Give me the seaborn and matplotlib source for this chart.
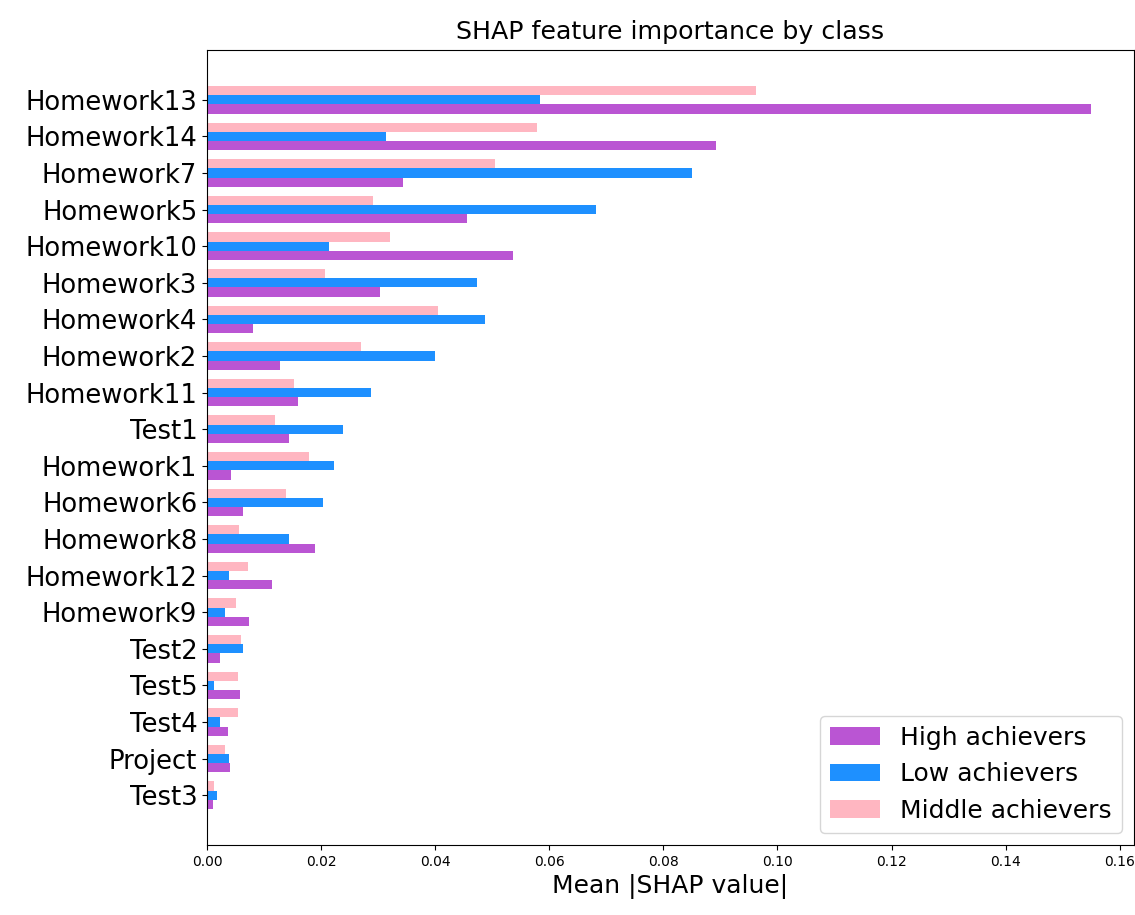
import matplotlib
matplotlib.use("Agg")
import matplotlib.pyplot as plt
import seaborn as sns
import pandas as pd
from matplotlib.patches import Patch

features = ["Homework13", "Homework14", "Homework7", "Homework5", "Homework10",
            "Homework3", "Homework4", "Homework2", "Homework11", "Test1",
            "Homework1", "Homework6", "Homework8", "Homework12", "Homework9",
            "Test2", "Test5", "Test4", "Project", "Test3"]
high = [0.1550, 0.0892, 0.0343, 0.0455, 0.0536, 0.0303, 0.0080, 0.0128, 0.0160, 0.0143,
        0.0042, 0.0063, 0.0189, 0.0114, 0.0074, 0.0022, 0.0057, 0.0036, 0.0040, 0.0010]
low = [0.0583, 0.0313, 0.0850, 0.0682, 0.0213, 0.0473, 0.0487, 0.0399, 0.0287, 0.0238,
       0.0223, 0.0204, 0.0144, 0.0038, 0.0032, 0.0063, 0.0013, 0.0022, 0.0038, 0.0018]
middle = [0.0962, 0.0578, 0.0505, 0.0291, 0.0321, 0.0206, 0.0405, 0.0270, 0.0152, 0.0119,
          0.0179, 0.0138, 0.0056, 0.0072, 0.0050, 0.0060, 0.0054, 0.0054, 0.0032, 0.0013]
classes = ["High achievers", "Low achievers", "Middle achievers"]
colors = {"High achievers": "#BA55D3", "Low achievers": "#1E90FF", "Middle achievers": "#FFB6C1"}

rows = []
for cls, vals in zip(classes, [high, low, middle]):
    for f, v in zip(features, vals):
        rows.append({"feature": f, "value": v, "cls": cls})
df = pd.DataFrame(rows)

W, H = 1135, 915
fig = plt.figure(figsize=(W / 100, H / 100), dpi=100)
fig.patch.set_facecolor("white")
ax = fig.add_axes([207 / W, 1 - 845 / H, (1134 - 207) / W, (845 - 50) / H])

hue_order = ["Middle achievers", "Low achievers", "High achievers"]
sns.barplot(data=df, y="feature", x="value", hue="cls", order=features,
            hue_order=hue_order, palette=colors, orient="h", width=0.75,
            saturation=1, linewidth=0, errorbar=None, ax=ax, legend=False)

n = len(features)
ax.set_ylim(n - 1 + 1.36, -1.36)
ax.set_xlim(0, 0.1625)
ax.set_xticks([0.00, 0.02, 0.04, 0.06, 0.08, 0.10, 0.12, 0.14, 0.16])
ax.set_xticklabels(["0.00", "0.02", "0.04", "0.06", "0.08", "0.10", "0.12", "0.14", "0.16"], fontsize=10)
ax.tick_params(axis="y", labelsize=18.6)
ax.set_ylabel("")
ax.set_xlabel("Mean |SHAP value|", fontsize=18)
ax.set_title("SHAP feature importance by class", fontsize=18.2, pad=8)

handles = [Patch(facecolor=colors[c], edgecolor="none") for c in classes]
ax.legend(handles, classes, loc="lower right", fontsize=18, frameon=True)

fig.savefig("out.png", dpi=100)
